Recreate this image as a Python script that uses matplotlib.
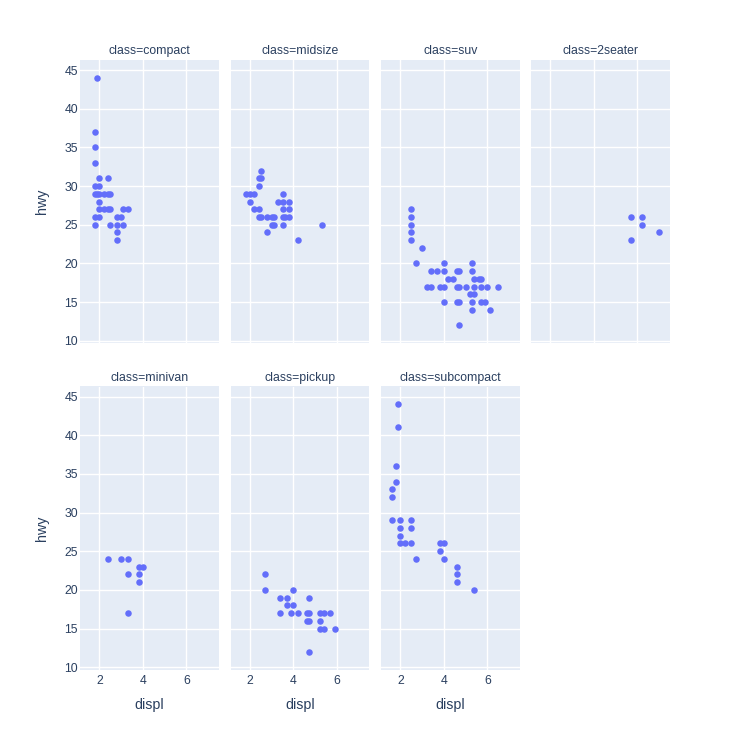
import matplotlib
matplotlib.use("Agg")
import matplotlib.pyplot as plt

plt.rcParams["font.family"] = ["Liberation Sans", "DejaVu Sans"]

classes = ["compact", "midsize", "suv", "2seater", "minivan", "pickup", "subcompact"]

compact_displ = [1.9, 1.8, 1.8, 1.8, 2.0, 2.4, 1.8, 2.0,
                 1.8, 1.9, 2.0, 2.2, 2.4, 2.5, 2.0,
                 2.0, 2.2, 2.4, 2.5, 3.1, 3.3,
                 1.8, 2.0, 2.8, 3.0, 1.8, 2.5, 2.8, 3.1, 2.8, 2.8]
compact_hwy = [44, 37, 35, 33, 31, 31, 30, 30,
               29, 29, 29, 29, 29, 29, 28,
               27, 27, 27, 27, 27, 27,
               26, 26, 26, 26, 25, 25, 25, 25, 24, 23]

midsize_displ = [1.8, 2.0, 2.2, 2.0, 2.2, 2.4, 2.5, 2.4, 2.5, 2.4,
                 2.4, 2.5, 2.8, 3.0, 3.1, 3.0, 3.1, 2.8,
                 3.5, 3.3, 3.5, 3.8, 3.5, 3.8, 3.5, 3.6, 3.8, 3.5, 4.2, 5.3]
midsize_hwy = [29, 29, 29, 28, 27, 27, 32, 31, 31, 30,
               26, 26, 26, 26, 26, 25, 25, 24,
               29, 28, 28, 28, 27, 27, 26, 26, 26, 25, 23, 25]

suv_displ = [2.5, 2.5, 2.5, 2.5, 2.5, 3.0, 2.7, 4.0, 5.3,
             3.4, 3.7, 4.0, 4.6, 4.7, 5.3,
             4.2, 4.4, 5.4, 5.6, 5.7,
             3.2, 3.4, 3.8, 4.0, 4.6, 4.7, 5.0, 5.4, 5.7, 6.0, 6.5,
             5.2, 5.4, 4.0, 4.6, 4.7, 5.3, 5.7, 5.9, 5.3, 6.1, 4.7]
suv_hwy = [27, 26, 25, 24, 23, 22, 20, 20, 20,
           19, 19, 19, 19, 19, 19,
           18, 18, 18, 18, 18,
           17, 17, 17, 17, 17, 17, 17, 17, 17, 17, 17,
           16, 16, 15, 15, 15, 15, 15, 15, 14, 14, 12]

twoseater_displ = [5.7, 6.2, 6.2, 7.0, 5.7]
twoseater_hwy = [26, 26, 25, 24, 23]

minivan_displ = [2.4, 3.0, 3.3, 3.8, 4.0, 3.3, 3.8, 3.8, 3.3]
minivan_hwy = [24, 24, 24, 23, 23, 22, 22, 21, 17]

pickup_displ = [2.7, 2.7, 4.0, 3.4, 3.7, 4.7, 3.7, 4.0,
                3.4, 3.9, 4.2, 4.6, 4.7, 5.2, 5.4, 5.7,
                4.6, 4.7, 5.2, 5.2, 5.4, 5.9, 4.7]
pickup_hwy = [22, 20, 20, 19, 19, 19, 18, 18,
              17, 17, 17, 17, 17, 17, 17, 17,
              16, 16, 16, 15, 15, 15, 12]

subcompact_displ = [1.9, 1.9, 1.8, 1.8, 1.6, 1.6, 1.6, 2.0, 2.5, 2.0, 2.5, 2.0,
                    2.0, 2.2, 2.5, 2.7, 3.8, 4.0, 3.8, 4.0, 4.6, 4.6, 4.6, 5.4]
subcompact_hwy = [44, 41, 36, 34, 33, 32, 29, 29, 29, 28, 28, 27,
                  26, 26, 26, 24, 26, 26, 25, 24, 23, 22, 21, 20]

data = {
    "compact": (compact_displ, compact_hwy),
    "midsize": (midsize_displ, midsize_hwy),
    "suv": (suv_displ, suv_hwy),
    "2seater": (twoseater_displ, twoseater_hwy),
    "minivan": (minivan_displ, minivan_hwy),
    "pickup": (pickup_displ, pickup_hwy),
    "subcompact": (subcompact_displ, subcompact_hwy),
}

x_ticks = [2, 4, 6]
y_ticks = [10, 15, 20, 25, 30, 35, 40, 45]

BG = "#E5ECF6"
MARK = "#636efa"
TXT = "#2a3f5f"

W = H = 750
fig = plt.figure(figsize=(7.5, 7.5), dpi=100)
fig.patch.set_facecolor("white")

col_left = [80, 230.5, 381, 531]
col_w = 138.5
row_top = [60, 386.5]
row_h = 283

def px_axes(x0, y0, w, h):
    return fig.add_axes([x0 / W, 1 - (y0 + h) / H, w / W, h / H])

for i, cls in enumerate(classes):
    r, c = divmod(i, 4)
    ax = px_axes(col_left[c], row_top[r], col_w, row_h)
    ax.set_facecolor(BG)
    for s in ax.spines.values():
        s.set_visible(False)
    ax.set_xlim(1.11, 7.47)
    ax.set_ylim(9.7, 46.3)
    ax.set_xticks(x_ticks)
    ax.set_yticks(y_ticks)
    ax.grid(True, color="white", linewidth=1.0)
    ax.set_axisbelow(True)
    ax.tick_params(length=0, colors=TXT, labelsize=8.8)
    ax.tick_params(axis="y", pad=1.5)
    ax.tick_params(axis="x", pad=4)
    if c != 0:
        ax.set_yticklabels([])
    else:
        fig.text(42 / W, 1 - (row_top[r] + row_h / 2) / H, "hwy",
                 rotation=90, ha="center", va="center", fontsize=10.3, color=TXT)
    if r == 0:
        ax.set_xticklabels([])
    else:
        fig.text((col_left[c] + col_w / 2) / W, 1 - 705 / H, "displ",
                 ha="center", va="center", fontsize=10.3, color=TXT)
    xs, ys = data[cls]
    ax.scatter(xs, ys, s=22, color=MARK, linewidths=0, zorder=3)
    ax.set_title(f"class={cls}", fontsize=8.8, color=TXT, pad=4)

fig.savefig("out.png", dpi=100, facecolor="white")
